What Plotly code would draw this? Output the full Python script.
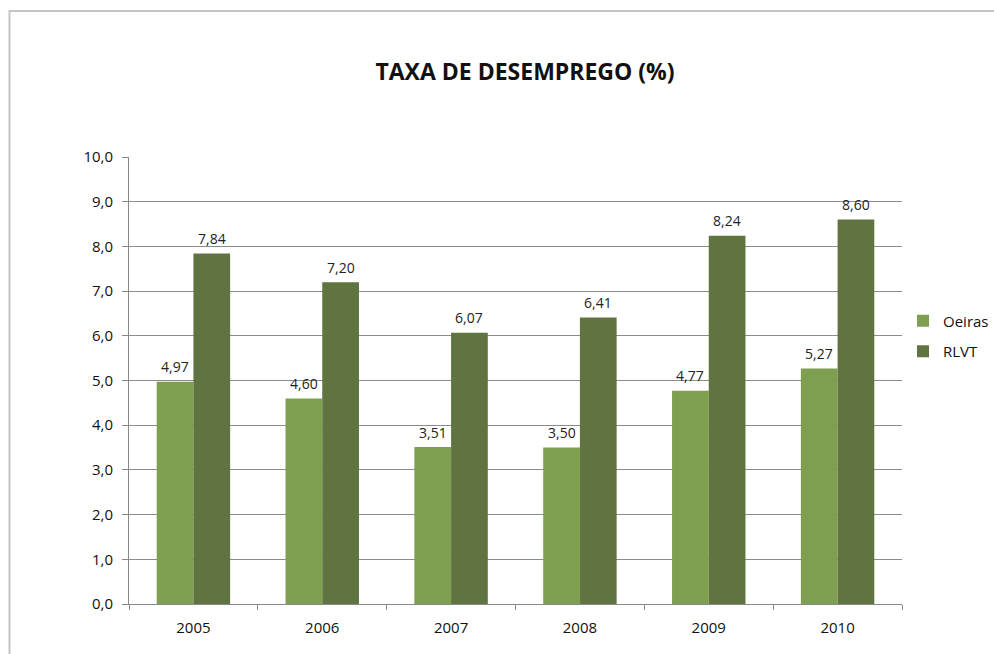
import plotly.graph_objects as go

years = ["2005", "2006", "2007", "2008", "2009", "2010"]
oeiras = [4.97, 4.60, 3.51, 3.50, 4.77, 5.27]
rlvt = [7.84, 7.20, 6.07, 6.41, 8.24, 8.60]

W, H = 994, 654
L, R, T, B = 129, 92, 157, 50
pw, ph = W - L - R, H - T - B
cat_w = pw / len(years)
bargap = 0.43
bar_w = cat_w * (1 - bargap) / 2

font = "Open Sans, Liberation Sans, sans-serif"

fig = go.Figure()
fig.add_trace(go.Bar(name="Oeiras", x=years, y=oeiras, marker_color="#7F9F50",
                     marker_line_width=0, legendgroup="a"))
fig.add_trace(go.Bar(name="RLVT", x=years, y=rlvt, marker_color="#5F7440",
                     marker_line_width=0, legendgroup="b"))

annotations = []
for series, sign in ((oeiras, -1), (rlvt, 1)):
    for i, v in enumerate(series):
        annotations.append(dict(x=i, y=v, xref="x", yref="y", text=f"{v:.2f}".replace(".", ","),
                                showarrow=False, xshift=sign * bar_w / 2, yshift=15,
                                font=dict(size=14, color="#222", family=font)))

# chart frame (light gray border, top & left visible)
fig.add_shape(type="rect", xref="paper", yref="paper",
              x0=(9.5 - L) / pw, x1=(W + 60 - L) / pw,
              y0=-(B + 40) / ph, y1=(H - 11 - B) / ph,
              line=dict(color="#C4C4C4", width=2), fillcolor="rgba(0,0,0,0)", layer="below")

fig.update_layout(
    width=W, height=H,
    margin=dict(l=L, r=R, t=T, b=B, autoexpand=False),
    paper_bgcolor="white", plot_bgcolor="white",
    separators=", ",
    barmode="group", bargap=bargap, bargroupgap=0,
    font=dict(family=font, size=15, color="#111"),
    annotations=annotations,
    title=dict(text="<b>TAXA DE DESEMPREGO (%)</b>", x=525 / W, xanchor="center",
               y=1 - 72 / H, yanchor="middle", font=dict(size=23, color="#111", family=font)),
    legend=dict(x=(903 - L) / pw, xanchor="left", y=(604 - 336) / ph, yanchor="middle",
                font=dict(size=15, color="#111"), itemwidth=30, tracegroupgap=8,
                bgcolor="rgba(0,0,0,0)"),
    xaxis=dict(type="category", range=[-0.5, 5.5], showline=True, linecolor="#888", linewidth=1,
               ticks="outside", tickson="boundaries", ticklen=5, tickcolor="#888",
               tickfont=dict(size=15, color="#111"), showgrid=False, ticklabelstandoff=10),
    yaxis=dict(range=[0, 10], dtick=1, tickformat=".1f", showline=True, linecolor="#888",
               linewidth=1, showgrid=True, gridcolor="#8C8C8C", gridwidth=1,
               ticks="outside", ticklen=6, tickcolor="#888", tickfont=dict(size=15, color="#111"),
               zeroline=False, ticklabelstandoff=6),
)

fig.write_html("out.html")
